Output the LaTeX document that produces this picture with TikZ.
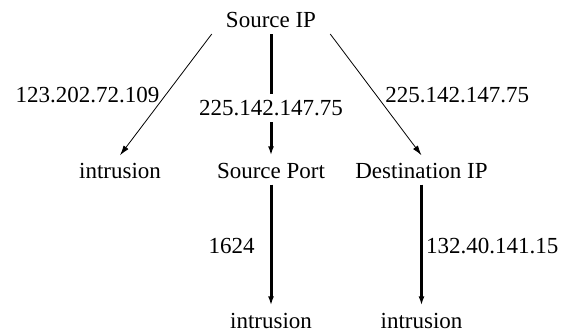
\documentclass[tikz,border=0pt]{standalone}
\usepackage{fontspec}
\setmainfont{Liberation Serif}
\usetikzlibrary{arrows.meta}

\tikzset{
  lbl/.style={inner xsep=2pt, inner ysep=6.5pt, text height=16pt, text depth=0pt},
  elbl/.style={inner sep=3pt, text height=16pt, text depth=0pt},
  thin edge/.style={line width=0.8pt, -{Latex[length=10pt,width=6pt]}},
  thick edge/.style={line width=3pt, -{Latex[length=9pt,width=6pt]}},
}

\begin{document}
\begin{tikzpicture}[x=1pt,y=-1pt,every node/.style={font=\fontsize{23}{27}\selectfont}]
\useasboundingbox (0,0) rectangle (571,332);
% Nodes
\node[lbl, anchor=base, inner xsep=14pt] (ip) at (271,27.3) {Source IP};
\node[lbl, anchor=base] (i1) at (120,178) {intrusion};
\node[lbl, anchor=base] (sp) at (271,178) {Source Port};
\node[lbl, anchor=base] (dst) at (421.5,178) {Destination IP};
\node[lbl, anchor=base] (i2) at (271,328) {intrusion};
\node[lbl, anchor=base] (i3) at (421.5,328) {intrusion};

% Edges
\draw[thin edge] (ip.south west) -- node[elbl, left=3pt] {123.202.72.109} (i1.north);
\draw[thick edge] (ip.south) -- node[elbl, pos=0.61, inner ysep=6pt, fill=white] {225.142.147.75} (sp.north);
\draw[thin edge] (ip.south east) -- node[elbl, right=6pt] {225.142.147.75} (dst.north);

\draw[thick edge] (sp.south) -- node[elbl, left=12pt] {1624} (i2.north);
\draw[thick edge] (dst.south) -- node[elbl, right=0pt] {132.40.141.15} (i3.north);
\end{tikzpicture}
\end{document}
